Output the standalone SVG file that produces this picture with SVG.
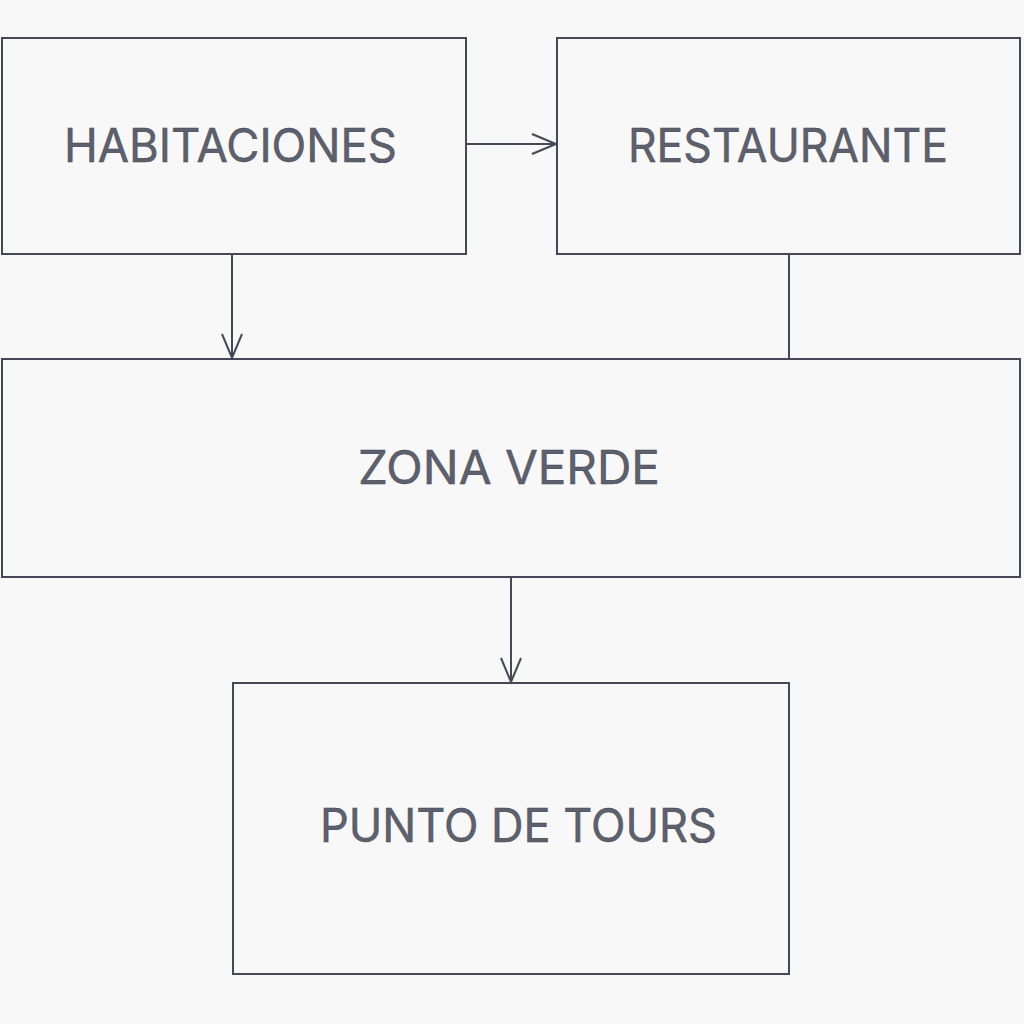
<svg xmlns="http://www.w3.org/2000/svg" width="1024" height="1024" viewBox="0 0 1024 1024">
<style>
.box{fill:#f8f8f8;stroke:#454856;stroke-width:2}
.lbl{font-family:Inter,"Liberation Sans",sans-serif;font-size:46px;fill:#5d606d;stroke:#3e4150;stroke-width:0.4;text-anchor:middle}
.con{stroke:#454856;stroke-width:2;fill:none}
</style>
<defs>
<marker id="arr" markerWidth="28" markerHeight="24" refX="25" refY="11" orient="auto" markerUnits="userSpaceOnUse">
<path d="M1,1 L25,11 L1,21" fill="none" stroke="#454856" stroke-width="2"/>
</marker>
</defs>
<rect width="1024" height="1024" fill="#f8f8f8"/>
<g id="habitaciones"><rect class="box" x="2" y="38" width="464" height="216"/><text class="lbl" x="230.5" y="162" textLength="333" lengthAdjust="spacingAndGlyphs">HABITACIONES</text></g>
<g id="restaurante"><rect class="box" x="557" y="38" width="463" height="216"/><text class="lbl" x="788" y="162" textLength="320" lengthAdjust="spacingAndGlyphs">RESTAURANTE</text></g>
<g id="zona-verde"><rect class="box" x="2" y="359" width="1018" height="218"/><text class="lbl" x="509" y="484" textLength="302" lengthAdjust="spacingAndGlyphs">ZONA VERDE</text></g>
<g id="punto-tours"><rect class="box" x="233" y="683" width="556" height="291"/><text class="lbl" x="518.5" y="842" textLength="397" lengthAdjust="spacingAndGlyphs">PUNTO DE TOURS</text></g>
<g id="connectors">
<line class="con" x1="466" y1="144" x2="556" y2="144" marker-end="url(#arr)"/>
<line class="con" x1="232" y1="254" x2="232" y2="358" marker-end="url(#arr)"/>
<line class="con" x1="789" y1="254" x2="789" y2="359"/>
<line class="con" x1="511" y1="577" x2="511" y2="682" marker-end="url(#arr)"/>
</g>
</svg>
